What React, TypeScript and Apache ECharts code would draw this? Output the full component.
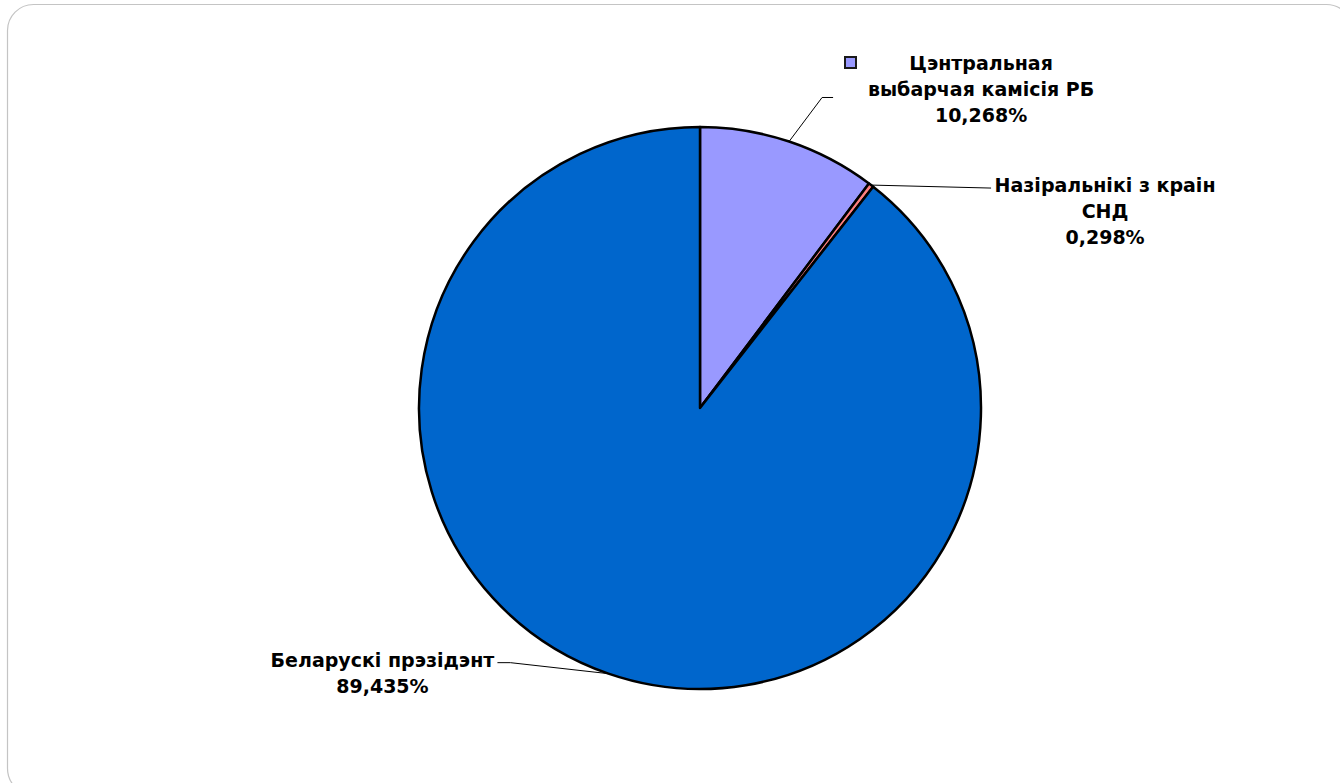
import React, { useEffect, useRef } from "react";
import * as echarts from "echarts";

const categories = [
  "Цэнтральная\nвыбарчая камісія РБ",
  "Назіральнікі з краін\nСНД",
  "Беларускі прэзідэнт",
];
const shares = [10.268, 0.298, 89.435];
const colors = ["#9999FF", "#FF8080", "#0066CC"];

// label placement relative to the slice's outer edge point: [dx, dy of label centre], line elbow offsets
const labelOffsets = [
  { dx: 192, dy: -52, elbow: [33, -44], end: [44, -44] },
  { dx: 234, dy: 26, elbow: [120, 3], end: [120, 3] },
  { dx: -226, dy: -1, elbow: [-98, -11], end: [-111, -11] },
];

export default function App() {
  const ref = useRef<HTMLDivElement>(null);
  useEffect(() => {
    if (!ref.current) return;
    const chart = echarts.init(ref.current, undefined, { renderer: "svg" });
    chart.setOption({
      animation: false,
      backgroundColor: "#ffffff",
      graphic: [
        {
          type: "rect",
          shape: { x: 7.5, y: 4.5, width: 1345, height: 790, r: 26 },
          style: { fill: "none", stroke: "#c4c4c4", lineWidth: 1.2 },
          silent: true,
        },
        {
          type: "rect",
          shape: { x: 845, y: 57, width: 11, height: 11 },
          style: { fill: "#9999FF", stroke: "#1a1a1a", lineWidth: 2 },
          silent: true,
        },
      ],
      series: [
        {
          type: "pie",
          center: [700, 408],
          radius: 281,
          startAngle: 90,
          clockwise: true,
          avoidLabelOverlap: false,
          itemStyle: { borderColor: "#000", borderWidth: 2.5 },
          label: {
            show: true,
            position: "outside",
            color: "#000",
            fontFamily: "DejaVu Sans",
            fontWeight: "bold",
            fontSize: 19,
            lineHeight: 26,
            align: "center",
            formatter: (p: any) =>
              p.name + "\n" + p.value.toFixed(3).replace(".", ",") + "%",
          },
          labelLine: {
            show: true,
            lineStyle: { color: "#000", width: 1 },
          },
          labelLayout: (params: any) => {
            const o = labelOffsets[params.dataIndex];
            const pts = params.labelLinePoints;
            if (!pts) return {};
            const p0 = pts[0];
            return {
              x: p0[0] + o.dx,
              y: p0[1] + o.dy,
              align: "center",
              verticalAlign: "middle",
              labelLinePoints: [
                [p0[0], p0[1]],
                [p0[0] + o.elbow[0], p0[1] + o.elbow[1]],
                [p0[0] + o.end[0], p0[1] + o.end[1]],
              ],
            };
          },
          emphasis: { disabled: true },
          data: categories.map((name, i) => ({
            name,
            value: shares[i],
            itemStyle: { color: colors[i] },
          })),
        },
      ],
    });
    return () => chart.dispose();
  }, []);
  return (
    <div
      ref={ref}
      style={{ position: "fixed", left: 0, top: 0, width: 1340, height: 783 }}
    />
  );
}
